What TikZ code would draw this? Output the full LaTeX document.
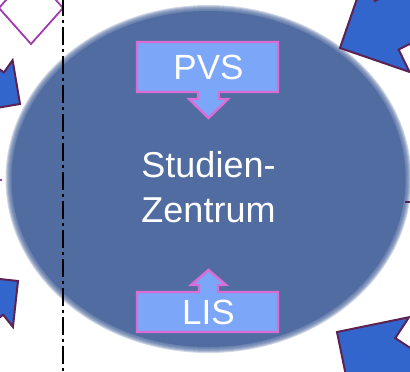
\documentclass[tikz,border=0pt]{standalone}
\usepackage{fontspec}
\setmainfont{Liberation Sans}
\usepackage{tikz}
\usetikzlibrary{positioning}
\definecolor{zentrumblue}{RGB}{81,108,161}
\definecolor{calloutfill}{RGB}{124,166,247}
\definecolor{calloutline}{RGB}{218,108,214}
\definecolor{arrowblue}{RGB}{51,102,204}
\definecolor{arrowrim}{RGB}{92,34,82}
\definecolor{diamondline}{RGB}{162,60,178}
\tikzset{
  arrowline/.style={draw=arrowrim, fill=arrowblue, line width=2pt, line join=miter},
  callout/.style={draw=calloutline, fill=calloutfill, line width=2.4pt},
  label/.style={text=white, inner sep=0pt, font=\fontsize{35}{42}\selectfont},
}
% block arrow: tip, angle, head half width, shaft half width
\newcommand{\blockarrow}[4]{%
  \begin{scope}[shift={(#1)}, rotate=#2]
    \draw[arrowline] (0,0) -- (-#3,#3) -- (-#3,#4) -- (-220,#4) -- (-220,-#4)
      -- (-#3,-#4) -- (-#3,-#3) -- cycle;
  \end{scope}}

\begin{document}
\begin{tikzpicture}[x=1pt, y=-1pt]
      \useasboundingbox (0,0) rectangle (410,372);
      \clip (0,0) rectangle (410,372);

      % Studien-Zentrum (soft edge)
      \fill[zentrumblue] (208.5,179) ellipse [x radius=197, y radius=168];
      \foreach \r in {1,...,7}
        \fill[zentrumblue, opacity=0.28] (208.5,179) ellipse [x radius=196+\r, y radius=167+\r];

      % diamond and divider
      \draw[diamondline, fill=white, line width=1.8pt] (63,8) -- (31,44) -- (-1,8) -- (31,-28) -- cycle;
      \coordinate (divtop) at (63,-2);
      \coordinate (divbot) at (63,374);
      \draw[black, line width=2.2pt, dash pattern={on 18pt off 4pt on 2.5pt off 4.5pt}] (divtop) -- (divbot);

      % incoming arrows
      \coordinate (tipNW) at (20,104);
      \coordinate (tipSW) at (18,281);
      \coordinate (tipNE) at (340,48);
      \coordinate (tipSE) at (337,332);
      \blockarrow{tipNW}{-35.4}{31.4}{16.4}
      \blockarrow{tipSW}{38.7}{32.7}{17}
      \blockarrow{tipNE}{206}{52}{27}
      \blockarrow{tipSE}{146.6}{52}{27}
      \draw[diamondline, line width=1.5pt] (-2,180) -- (1.5,180);
      \draw[arrowrim, line width=2pt] (404.5,202) -- (412,202);

      % callouts
      \draw[callout] (137,42) -- (278,42) -- (278,92) -- (219,92) -- (219,99) -- (228,99)
        -- (208.5,118) -- (189,99) -- (198,99) -- (198,92) -- (137,92) -- cycle;
      \draw[callout] (137,332) -- (278,332) -- (278,292) -- (218,292) -- (218,285) -- (226,285)
        -- (208.5,270) -- (191,285) -- (199,285) -- (199,292) -- (137,292) -- cycle;
      \node[label] (pvs) at (208.5,67.5) {PVS};
      \node[label] (lis) at (208.5,312) {LIS};
      \node[label, align=center, font=\fontsize{36}{45}\selectfont] (zentrum) at (208.5,187.5) {Studien-\\Zentrum};
\end{tikzpicture}
\end{document}
